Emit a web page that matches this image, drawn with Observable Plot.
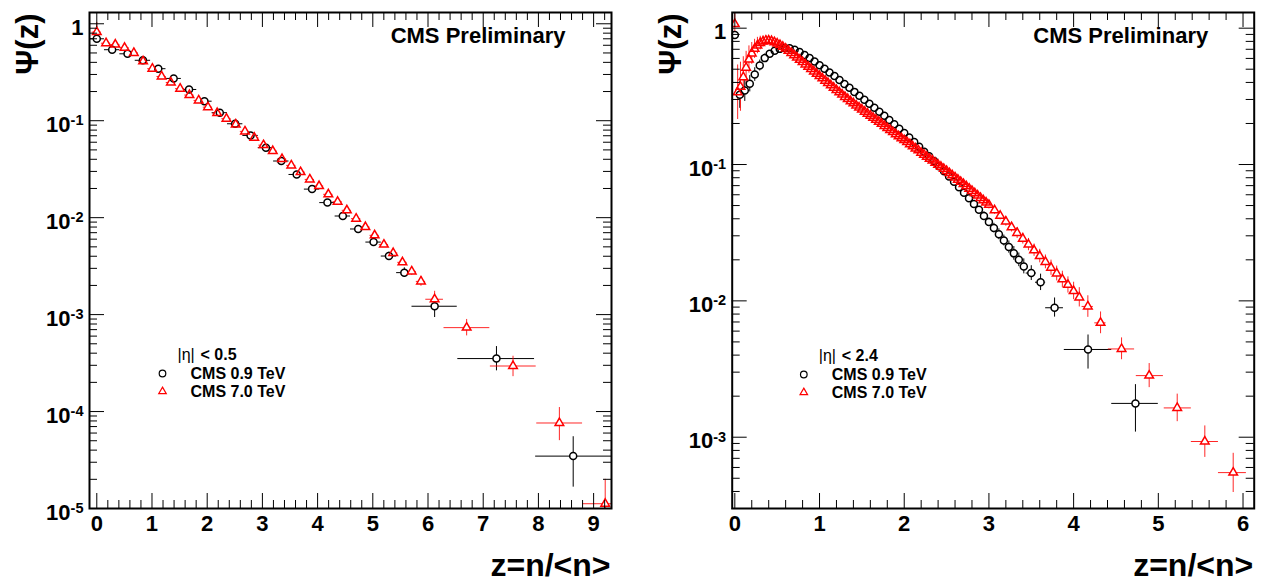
<!DOCTYPE html>
<html><head><meta charset="utf-8">
<script src="https://cdn.jsdelivr.net/npm/d3@7"></script>
<script src="https://cdn.jsdelivr.net/npm/@observablehq/plot@0.6"></script>
<style>
body{margin:0;background:#fff;}
#wrap{position:relative;width:1268px;height:583px;overflow:hidden;background:#fff;}
#wrap svg{position:absolute;top:0;}
</style></head><body><div id="wrap"></div>
<script>
// ================= LEFT PANEL : |eta| < 0.5 =================
const nMeanL09 = 3.59;   // <n> for 0.9 TeV (z = n/<n>)
const nMeanL70 = 5.96;   // <n> for 7.0 TeV
const psiL09 = [0.70, 0.54, 0.49, 0.42, 0.344, 0.273, 0.21, 0.159, 0.121, 0.093, 0.0705, 0.0527, 0.0384, 0.0279, 0.0197, 0.0143, 0.0104, 0.00764, 0.0056, 0.00402, 0.00271];
const errL09Start = [0.02];
const errL09End = [0.02, 0.03, 0.04, 0.05];
const psiL70 = [0.82, 0.63, 0.61, 0.566, 0.50, 0.41, 0.344, 0.286, 0.248, 0.214, 0.184, 0.162, 0.138, 0.12, 0.105, 0.0916, 0.0776, 0.0668, 0.056, 0.0486, 0.0402, 0.0346, 0.0295, 0.0248, 0.0212, 0.0174, 0.0146, 0.0119, 0.00977, 0.008, 0.00657, 0.00527, 0.00432, 0.00346, 0.00279, 0.0022];
const errL70Start = [0.1, 0.03];
const errL70End = [0.02, 0.03, 0.04, 0.05];
// merged tail bins
const tailZL09 = [6.12, 7.24, 8.63];
const tailZloL09 = [5.71, 6.54, 7.95];
const tailZhiL09 = [6.53, 7.93, 9.4];
const tailPsiL09 = [0.00122, 3.52e-4, 3.47e-5];
const tailLoL09 = [9.33e-4, 2.63e-4, 1.66e-5];
const tailHiL09 = [1.51e-3, 4.68e-4, 5.5e-5];
const tailZL70 = [6.12, 6.70, 7.54, 8.38, 9.21];
const tailZloL70 = [5.96, 6.29, 7.13, 7.97, 8.80];
const tailZhiL70 = [6.28, 7.12, 7.96, 8.80, 9.63];
const tailPsiL70 = [1.44e-3, 7.34e-4, 2.95e-4, 7.62e-5, 1.12e-5];
const tailLoL70 = [1.26e-3, 6.03e-4, 2.29e-4, 5.01e-5, 5e-6];
const tailHiL70 = [1.74e-3, 8.91e-4, 3.72e-4, 1.10e-4, 2.0e-5];
const xTicksL = [0, 1, 2, 3, 4, 5, 6, 7, 8, 9];
const yTicksL = [1, 0.1, 0.01, 0.001, 1e-4, 1e-5];

// ================= RIGHT PANEL : |eta| < 2.4 =================
const nMeanR09 = 17;
const nMeanR70 = 30;
const psiR09 = [0.891,0.325,0.349,0.391,0.457,0.532,0.603,0.649,0.684,0.705,
  0.715,0.711,0.695,0.668,0.635,0.603,0.569,0.535,0.504,0.473,
  0.445,0.417,0.390,0.365,0.341,0.319,0.299,0.279,0.261,0.244,
  0.228,0.212,0.197,0.183,0.170,0.158,0.146,0.135,0.124,0.115,
  0.106,0.0970,0.0891,0.0817,0.0746,0.0681,0.0621,0.0565,0.0513,0.0465,
  0.0420,0.0379,0.0342,0.0308,0.0277,0.0248,0.0223,0.0200,0.0179];
const errR09Start = [0.015, 0.1, 0.08, 0.06, 0.05, 0.04, 0.03, 0.02];
const errR09End = [0.03, 0.03, 0.035, 0.04, 0.04, 0.045, 0.05, 0.05, 0.055];
const psiR70 = [1.072,0.339,0.372,0.437,0.513,0.589,0.653,0.705,0.746,0.778,
  0.798,0.809,0.811,0.804,0.789,0.771,0.752,0.731,0.708,0.682,
  0.658,0.634,0.610,0.586,0.564,0.542,0.521,0.501,0.482,0.463,
  0.446,0.429,0.412,0.396,0.381,0.366,0.352,0.339,0.326,0.313,
  0.302,0.291,0.281,0.271,0.262,0.253,0.244,0.236,0.228,0.220,
  0.213,0.206,0.199,0.192,0.185,0.179,0.173,0.167,0.161,0.156,
  0.151,0.146,0.141,0.136,0.131,0.127,0.122,0.118,0.114,0.110,
  0.107,0.103,0.0995,0.0962,0.0929,0.0897,0.0865,0.0834,0.0804,0.0774,
  0.0746,0.0719,0.0692,0.0665,0.0640,0.0615,0.0592,0.0569,0.0547,0.0526,0.0506];
const errR70Start = [0.1, 0.2, 0.18, 0.15, 0.12, 0.1, 0.08, 0.07, 0.06, 0.05, 0.04, 0.035, 0.03, 0.025, 0.02];
const errR70End = [0.02, 0.02, 0.025, 0.025, 0.03];
const tailZR09 = [3.50, 3.61, 3.775, 4.17, 4.73];
const tailZloR09 = [3.44, 3.55, 3.67, 3.89, 4.45];
const tailZhiR09 = [3.56, 3.67, 3.88, 4.45, 5.0];
const tailPsiR09 = [0.016, 0.0137, 0.0089, 0.0044, 0.00177];
const tailLoR09 = [0.0141, 0.0119, 0.0076, 0.00316, 0.00109];
const tailHiR09 = [0.0181, 0.0157, 0.0105, 0.00562, 0.00243];
const tailZR70 = [3.067, 3.133, 3.2, 3.267, 3.333, 3.4, 3.467, 3.533, 3.6, 3.667, 3.733, 3.8, 3.867, 3.933, 4.0, 4.067, 4.168, 4.318, 4.566, 4.892, 5.223, 5.549, 5.884];
const tailZloR70 = [3.033, 3.1, 3.167, 3.233, 3.3, 3.367, 3.433, 3.5, 3.567, 3.633, 3.7, 3.767, 3.833, 3.9, 3.967, 4.033, 4.1, 4.25, 4.41, 4.74, 5.07, 5.39, 5.71];
const tailZhiR70 = [3.1, 3.167, 3.233, 3.3, 3.367, 3.433, 3.5, 3.567, 3.633, 3.7, 3.767, 3.833, 3.9, 3.967, 4.033, 4.1, 4.233, 4.383, 4.72, 5.06, 5.39, 5.71, 6.04];
const tailPsiR70 = [0.0462, 0.0421, 0.0382, 0.0347, 0.0315, 0.0286, 0.0259, 0.0235, 0.0213, 0.0193, 0.0175, 0.0159, 0.0144, 0.0131, 0.0118, 0.0106, 0.0091, 0.0069, 0.00444, 0.00283, 0.00164, 9.3e-4, 5.5e-4];
const tailLoR70 = [0.0431, 0.0393, 0.0353, 0.0320, 0.0287, 0.0261, 0.0233, 0.0212, 0.0190, 0.0172, 0.0154, 0.0140, 0.0125, 0.0114, 0.0102, 0.00902, 0.00757, 0.00574, 0.0037, 0.00231, 0.0013, 7.11e-4, 3.93e-4];
const tailHiR70 = [0.0495, 0.0451, 0.0414, 0.0376, 0.0345, 0.0314, 0.0287, 0.0261, 0.0239, 0.0217, 0.0199, 0.0180, 0.0165, 0.0150, 0.0137, 0.0125, 0.0109, 0.00829, 0.00535, 0.00347, 0.00207, 1.21e-3, 7.62e-4];
const xTicksR = [0, 1, 2, 3, 4, 5, 6];
const yTicksR = [1, 0.1, 0.01, 0.001];

const legendSeries = ["CMS 0.9 TeV", "CMS 7.0 TeV"];
const titleText = "CMS Preliminary";

// ---------------- helpers ----------------
function denseRows(psi, nMean, errStart, errEnd) {
  const N = psi.length;
  return psi.map((v, n) => {
    let e = 0;
    if (n < errStart.length) e = errStart[n];
    else if (n >= N - errEnd.length) e = errEnd[n - (N - errEnd.length)];
    return {z: n / nMean, psi: v, x1: (n - 0.5) / nMean, x2: (n + 0.5) / nMean, y1: v / 10 ** e, y2: v * 10 ** e};
  });
}
function tailRows(z, zlo, zhi, psi, lo, hi) {
  return z.map((d, i) => ({z: d, x1: zlo[i], x2: zhi[i], psi: psi[i], y1: lo[i], y2: hi[i]}));
}

const W = 634, H = 583;
const BLACK = "#000000", RED = "#ff0000";
const FONT = '"Liberation Sans", Arial, Helvetica, sans-serif';

function makePanel(c) {
  const plotW = W - c.mL - c.mR, plotH = H - c.mT - c.mB;
  const xMinor = d3.range(Math.ceil(c.xDomain[0] * 5), Math.floor(c.xDomain[1] * 5) + 1)
    .map(i => i / 5).filter(v => Math.abs(v - Math.round(v)) > 1e-9);
  const yMinor = [];
  for (let e = Math.floor(Math.log10(c.yDomain[0])); e <= Math.ceil(Math.log10(c.yDomain[1])); e++)
    for (let m = 2; m <= 9; m++) { const v = m * 10 ** e; if (v >= c.yDomain[0] && v <= c.yDomain[1]) yMinor.push(v); }
  const B = c.black, R = c.red;
  const rC = 3.5, rT = 3.2;
  const tick = {stroke: BLACK, strokeWidth: 1};
  const svg = Plot.plot({
    width: W, height: H,
    marginLeft: c.mL, marginRight: c.mR, marginTop: c.mT, marginBottom: c.mB,
    x: {domain: c.xDomain, label: null},
    y: {type: "log", domain: c.yDomain, label: null},
    style: {fontFamily: FONT, fontSize: "22px", fontWeight: "bold", color: "black", background: "white", overflow: "visible"},
    marks: [
      // error bars
      Plot.ruleY(B, {y: "psi", x1: "x1", x2: "x2", stroke: BLACK, strokeWidth: 1, clip: true}),
      Plot.ruleX(B, {x: "z", y1: "y1", y2: "y2", stroke: BLACK, strokeWidth: 1, clip: true}),
      Plot.ruleY(R, {y: "psi", x1: "x1", x2: "x2", stroke: RED, strokeWidth: 1, strokeOpacity: 0.85, clip: true}),
      Plot.ruleX(R, {x: "z", y1: "y1", y2: "y2", stroke: RED, strokeWidth: 1, strokeOpacity: 0.85, clip: true}),
      // marker interiors (error bars are not drawn inside markers)
      Plot.dot(B, {x: "z", y: "psi", r: rC, fill: "white", clip: true}),
      Plot.dot(R, {x: "z", y: "psi", r: rT, symbol: "triangle", fill: "white", clip: true}),
      // open markers
      Plot.dot(B, {x: "z", y: "psi", r: rC, stroke: BLACK, strokeWidth: 1.5, fill: "none", clip: true}),
      Plot.dot(R, {x: "z", y: "psi", r: rT, symbol: "triangle", stroke: RED, strokeWidth: 1.5, fill: "none", clip: true}),
      // ticks inside the frame on all four sides
      Plot.tickX(c.xTicks, {x: d => d, insetTop: plotH - 15, ...tick}),
      Plot.tickX(xMinor, {x: d => d, insetTop: plotH - 8, ...tick}),
      Plot.tickX(c.xTicks, {x: d => d, insetBottom: plotH - 15, ...tick}),
      Plot.tickX(xMinor, {x: d => d, insetBottom: plotH - 8, ...tick}),
      Plot.tickY(c.yTicks, {y: d => d, insetRight: plotW - 15, ...tick}),
      Plot.tickY(yMinor, {y: d => d, insetRight: plotW - 8, ...tick}),
      Plot.tickY(c.yTicks, {y: d => d, insetLeft: plotW - 15, ...tick}),
      Plot.tickY(yMinor, {y: d => d, insetLeft: plotW - 8, ...tick}),
      Plot.frame({stroke: BLACK, strokeWidth: 2}),
      Plot.axisX({ticks: c.xTicks, tickSize: 0, tickPadding: 7, tickFormat: d => String(d), fontSize: 22, fontWeight: "bold"}),
      Plot.axisY({ticks: c.yTicks, tickSize: 0, tickPadding: 6, dy: 4, fontSize: 22, fontWeight: "bold",
        tickFormat: d => d === 1 ? "1" : "10^" + Math.round(Math.log10(d))}),
      // axis titles
      Plot.text(["Ψ(z)"], {text: d => d, frameAnchor: "top-left", dx: c.psiDx, dy: 1, rotate: -90, textAnchor: "end", lineAnchor: "middle", fontSize: 31, fontWeight: "bold"}),
      Plot.text(["z=n/<n>"], {text: d => d, frameAnchor: "bottom-right", dx: -1, dy: 67, textAnchor: "end", lineAnchor: "bottom", fontSize: 32, fontWeight: "bold"}),
      // CMS Preliminary
      Plot.text([titleText], {text: d => d, frameAnchor: "top-right", dx: -46, dy: 30, textAnchor: "end", lineAnchor: "bottom", fontSize: 22, fontWeight: "bold"}),
      // legend
      Plot.text(["|η|"], {text: d => d, frameAnchor: "top-left", dx: c.legDx + 15, dy: c.legDy, textAnchor: "start", lineAnchor: "middle", fontSize: 16, fontWeight: "normal"}),
      Plot.text([c.etaCut], {text: d => d, frameAnchor: "top-left", dx: c.legDx + 38, dy: c.legDy, textAnchor: "start", lineAnchor: "middle", fontSize: 16, fontWeight: "bold"}),
      Plot.dot([0], {frameAnchor: "top-left", dx: c.legDx, dy: c.legDy + 19, r: 3.3, stroke: BLACK, strokeWidth: 1.2, fill: "none"}),
      Plot.dot([0], {frameAnchor: "top-left", dx: c.legDx, dy: c.legDy + 37, r: 2.8, symbol: "triangle", stroke: RED, strokeWidth: 1.2, fill: "none"}),
      Plot.text([legendSeries[0]], {text: d => d, frameAnchor: "top-left", dx: c.legDx + 28, dy: c.legDy + 19, textAnchor: "start", lineAnchor: "middle", fontSize: 16, fontWeight: "bold"}),
      Plot.text([legendSeries[1]], {text: d => d, frameAnchor: "top-left", dx: c.legDx + 28, dy: c.legDy + 37, textAnchor: "start", lineAnchor: "middle", fontSize: 16, fontWeight: "bold"})
    ]
  });
  // superscript exponents on the log axis labels
  d3.select(svg).selectAll('g[aria-label="y-axis tick label"] text').each(function () {
    const t = this.textContent;
    if (t.includes("^")) {
      const [base, exp] = t.split("^");
      const sel = d3.select(this);
      sel.text(base);
      sel.append("tspan").attr("dy", "-0.45em").attr("font-size", "0.66em").text(exp);
    }
  });
  svg.style.left = c.left + "px";
  return svg;
}

const wrap = document.getElementById("wrap");
wrap.appendChild(makePanel({
  left: 0, mL: 89, mR: 23, mT: 12, mB: 75,
  xDomain: [-0.132, 9.324], yDomain: [1e-5, 1.307],
  xTicks: xTicksL, yTicks: yTicksL, psiDx: -61,
  legDx: 73, legDy: 342, etaCut: "< 0.5",
  black: denseRows(psiL09, nMeanL09, errL09Start, errL09End).concat(tailRows(tailZL09, tailZloL09, tailZhiL09, tailPsiL09, tailLoL09, tailHiL09)),
  red: denseRows(psiL70, nMeanL70, errL70Start, errL70End).concat(tailRows(tailZL70, tailZloL70, tailZhiL70, tailPsiL70, tailLoL70, tailHiL70))
}));
wrap.appendChild(makePanel({
  left: 634, mL: 97.7, mR: 14.3, mT: 12, mB: 75,
  xDomain: [-0.031, 6.132], yDomain: [3.0e-4, 1.303],
  xTicks: xTicksR, yTicks: yTicksR, psiDx: -61,
  legDx: 71.6, legDy: 343, etaCut: "< 2.4",
  black: denseRows(psiR09, nMeanR09, errR09Start, errR09End).concat(tailRows(tailZR09, tailZloR09, tailZhiR09, tailPsiR09, tailLoR09, tailHiR09)),
  red: denseRows(psiR70, nMeanR70, errR70Start, errR70End).concat(tailRows(tailZR70, tailZloR70, tailZhiR70, tailPsiR70, tailLoR70, tailHiR70))
}));
</script></body></html>
